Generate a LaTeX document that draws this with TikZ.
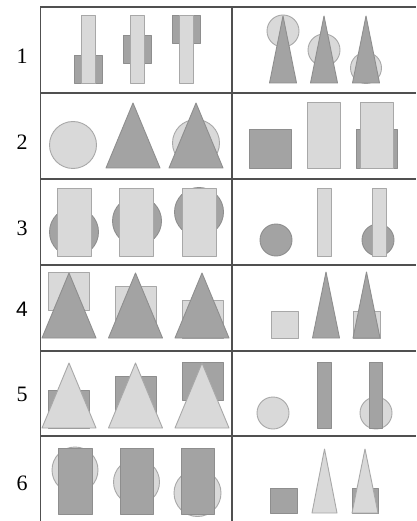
\documentclass[tikz,border=0pt]{standalone}
\usepackage{fontspec}
\setmainfont{Liberation Serif}
\newfontfamily\arialfont{Liberation Sans}
\definecolor{lfill}{HTML}{D9D9D9}
\definecolor{lline}{HTML}{A8A8A8}
\definecolor{dfill}{HTML}{A3A3A3}
\definecolor{dline}{HTML}{8E8E8E}
\definecolor{grid}{HTML}{505050}
\begin{document}
\begin{tikzpicture}[x=1pt,y=-1pt,
  light/.style={fill=lfill,draw=lline,line width=0.9pt,line join=round},
  dark/.style={fill=dfill,draw=dline,line width=0.9pt,line join=round},
  gridline/.style={draw=grid,line width=1.1pt},
  numlab/.style={font=\fontsize{22}{26}\selectfont,inner sep=0pt}]
\useasboundingbox (0,0) rectangle (416,521);
\fill[white] (0,0) rectangle (416,521);
% grid
\draw[gridline] (40.5,7) -- (40.5,521);
\draw[gridline] (232,7) -- (232,521);
\foreach \yy in {7,93,179,265,351,436}{\draw[gridline] (40,\yy) -- (416,\yy);}
% labels
\node[numlab] (n1) at (22,56) {1};
\node[numlab] (n2) at (22,142) {2};
\node[numlab] (n3) at (22,228) {3};
\node[numlab,font=\arialfont\fontsize{21}{25}\selectfont] (n4) at (22,309) {4};
\node[numlab] (n5) at (22,394) {5};
\node[numlab] (n6) at (22,483) {6};
% ---------- Row 1 left
\draw[dark] (74,55) rectangle (102,83);
\draw[light] (81,15) rectangle (95,83);
\draw[dark] (123,35) rectangle (151,63);
\draw[light] (130,15) rectangle (144,83);
\draw[dark] (172,15) rectangle (200,43);
\draw[light] (179,15) rectangle (193,83);
% Row 1 right
\draw[light] (283,31) circle (16);
\draw[dark] (283,16) -- (269.5,83) -- (296.5,83) -- cycle;
\draw[light] (324,50) circle (16);
\draw[dark] (324,16) -- (310.5,83) -- (337.5,83) -- cycle;
\draw[light] (366,68) circle (15.5);
\draw[dark] (366,16) -- (352.5,83) -- (379.5,83) -- cycle;
% ---------- Row 2 left
\draw[light] (73,145) circle (23.5);
\draw[dark] (133,103) -- (106,168) -- (160,168) -- cycle;
\draw[light] (196,143) circle (23.5);
\draw[dark] (196,103) -- (169,168) -- (223,168) -- cycle;
% Row 2 right
\draw[dark] (249,129) rectangle (291,168);
\draw[light] (307,102) rectangle (340,168);
\draw[dark] (356,129) rectangle (397,168);
\draw[light] (360,102) rectangle (393,168);
% ---------- Row 3 left
\draw[dark] (74,232) circle (24.5);
\draw[light] (57,188) rectangle (91,256);
\draw[dark] (137,221) circle (24.5);
\draw[light] (119,188) rectangle (153,256);
\draw[dark] (199,212) circle (24.5);
\draw[light] (182,188) rectangle (216,256);
% Row 3 right
\draw[dark] (276,240) circle (16);
\draw[light] (317,188) rectangle (331,256);
\draw[dark] (378,240) circle (16);
\draw[light] (372,188) rectangle (386,256);
% ---------- Row 4 left
\draw[light] (48,272) rectangle (89,310);
\draw[dark] (69,273) -- (42,338) -- (96,338) -- cycle;
\draw[light] (115,286) rectangle (156,324);
\draw[dark] (135.5,273) -- (108.5,338) -- (162.5,338) -- cycle;
\draw[light] (182,300) rectangle (223,338);
\draw[dark] (202,273) -- (175,338) -- (229,338) -- cycle;
% Row 4 right
\draw[light] (271,311) rectangle (298,338);
\draw[dark] (326,272) -- (312.5,338) -- (339.5,338) -- cycle;
\draw[light] (353,311) rectangle (380,338);
\draw[dark] (366.5,272) -- (353,338) -- (380,338) -- cycle;
% ---------- Row 5 left
\draw[dark] (48,390) rectangle (89,428);
\draw[light] (69,363) -- (42,428) -- (96,428) -- cycle;
\draw[dark] (115,376) rectangle (156,414);
\draw[light] (135.5,363) -- (108.5,428) -- (162.5,428) -- cycle;
\draw[dark] (182,362) rectangle (223,400);
\draw[light] (202,363) -- (175,428) -- (229,428) -- cycle;
% Row 5 right
\draw[light] (273,413) circle (16);
\draw[dark] (317,362) rectangle (331,428);
\draw[light] (376,413) circle (16);
\draw[dark] (369,362) rectangle (382,428);
% ---------- Row 6 left
\draw[light] (75,470) circle (23);
\draw[dark] (58,448) rectangle (92,514);
\draw[light] (136.5,482) circle (23);
\draw[dark] (120,448) rectangle (153,514);
\draw[light] (197.5,493) circle (23.5);
\draw[dark] (181,448) rectangle (214,514);
% Row 6 right
\draw[dark] (270,488) rectangle (297,513);
\draw[light] (324.5,449) -- (312,513) -- (337,513) -- cycle;
\draw[dark] (352,488) rectangle (378,513);
\draw[light] (365,449) -- (352,513) -- (378,513) -- cycle;
\end{tikzpicture}
\end{document}
